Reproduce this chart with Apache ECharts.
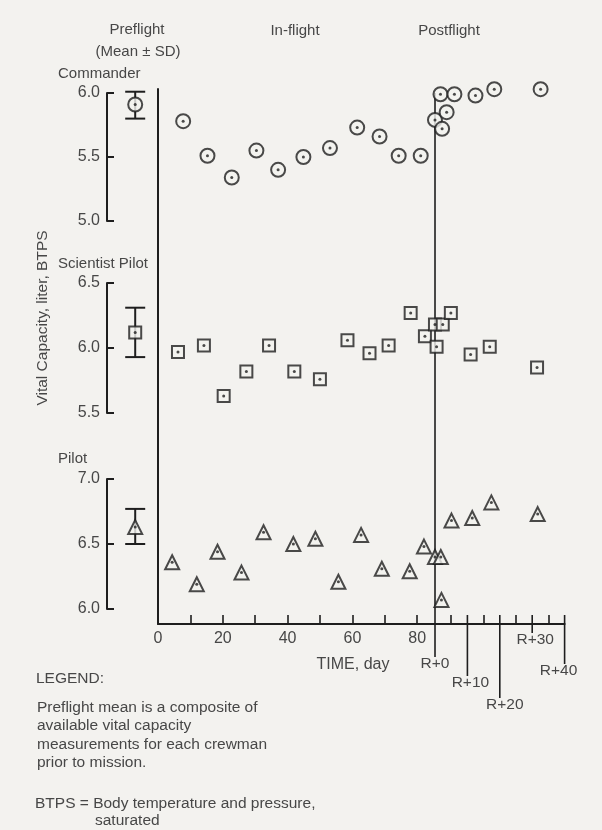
<!DOCTYPE html>
<html>
<head>
<meta charset="utf-8">
<script src="https://cdn.jsdelivr.net/npm/echarts@6/dist/echarts.min.js"></script>
<style>
html, body { margin: 0; padding: 0; background: #f3f2ef; }
#main { width: 602px; height: 830px; }
</style>
</head>
<body>
<div id="main"></div>
<script>
// mission day of recovery (R+0) on the time axis
var R0 = 85.5;
var PRE_X = -7; // where the preflight mean is drawn

// Commander
var cdrDays = [7.8, 15.3, 22.8, 30.4, 37.1, 44.9, 53.1, 61.5, 68.4, 74.3, 81.1];
var cdrVals = [5.78, 5.51, 5.34, 5.55, 5.40, 5.50, 5.57, 5.73, 5.66, 5.51, 5.51];
var cdrPostDays = [0, 1.7, 2.2, 3.6, 6.0, 12.5, 18.3, 32.6];
var cdrPostVals = [5.79, 5.99, 5.72, 5.85, 5.99, 5.98, 6.03, 6.03];

// Scientist Pilot
var spDays = [6.2, 14.2, 20.3, 27.3, 34.3, 42.1, 50.0, 58.5, 65.3, 71.2, 78.0, 82.4];
var spVals = [5.97, 6.02, 5.63, 5.82, 6.02, 5.82, 5.76, 6.06, 5.96, 6.02, 6.27, 6.09];
var spPostDays = [0, 0.5, 2.4, 4.9, 11.0, 16.9, 31.5];
var spPostVals = [6.18, 6.01, 6.18, 6.27, 5.95, 6.01, 5.85];

// Pilot
var pltDays = [4.4, 12.0, 18.4, 25.8, 32.6, 41.8, 48.6, 55.7, 62.7, 69.1, 77.7, 82.1];
var pltVals = [6.36, 6.19, 6.44, 6.28, 6.59, 6.50, 6.54, 6.21, 6.57, 6.31, 6.29, 6.48];
var pltPostDays = [0, 1.8, 2.0, 5.1, 11.5, 17.4, 31.7];
var pltPostVals = [6.40, 6.40, 6.07, 6.68, 6.70, 6.82, 6.73];

// preflight mean +/- SD (Commander, Scientist Pilot, Pilot)
var preMean = [5.91, 6.12, 6.63];
var preLow = [5.80, 5.93, 6.50];
var preHigh = [6.01, 6.31, 6.77];

var crewNames = ['Commander', 'Scientist Pilot', 'Pilot'];
var yMin = [5.0, 5.5, 6.0];
var yMax = [6.0, 6.5, 7.0];

// time axis ticks
var inflightTicks = [10, 20, 30, 40, 50, 60, 70, 80];
var inflightLabels = [0, 20, 40, 60, 80];
var postTicks = [5, 15, 25, 35];
var postMarks = [0, 10, 20, 30, 40];

var ink = '#1e1e1e';
var txt = '#474747';
var bg = '#f3f2ef';
var font = 'Liberation Sans';

var grids = [
  { left: 119, width: 445.6, top: 93, height: 128 },
  { left: 119, width: 445.6, top: 283, height: 130 },
  { left: 119, width: 445.6, top: 479, height: 130 },
  { left: 158, width: 406.6, top: 89, height: 535 }
];

var symbols = ['circle', 'rect', 'triangle'];
var symSize = [14, 12, 14];

var allDays = [[cdrDays, cdrPostDays], [spDays, spPostDays], [pltDays, pltPostDays]];
var allVals = [[cdrVals, cdrPostVals], [spVals, spPostVals], [pltVals, pltPostVals]];

var xAxes = [], yAxes = [], series = [];
for (var i = 0; i < 3; i++) {
  xAxes.push({ gridIndex: i, type: 'value', min: -12, max: 125.5, show: false });
  yAxes.push({
    gridIndex: i, type: 'value', min: yMin[i], max: yMax[i], interval: 0.5,
    offset: 12,
    axisLine: { show: true, onZero: false, lineStyle: { color: ink, width: 2 } },
    axisTick: { show: true, inside: true, length: 7, lineStyle: { color: ink, width: 2 } },
    axisLabel: { margin: 7, color: txt, fontSize: 16, fontFamily: font,
      formatter: function (v) { return v.toFixed(1); } },
    splitLine: { show: false }
  });

  var pts = [[PRE_X, preMean[i]]];
  var d = allDays[i], v = allVals[i];
  for (var k = 0; k < d[0].length; k++) pts.push([d[0][k], v[0][k]]);
  for (var k = 0; k < d[1].length; k++) pts.push([R0 + d[1][k], v[1][k]]);

  series.push({
    type: 'custom', xAxisIndex: i, yAxisIndex: i, z: 2, silent: true,
    data: [[PRE_X, preLow[i], preHigh[i]]],
    renderItem: function (params, api) {
      var lo = api.coord([api.value(0), api.value(1)]);
      var hi = api.coord([api.value(0), api.value(2)]);
      var st = { stroke: ink, lineWidth: 2 };
      return { type: 'group', children: [
        { type: 'line', shape: { x1: lo[0], y1: lo[1], x2: hi[0], y2: hi[1] }, style: st },
        { type: 'line', shape: { x1: lo[0] - 10, y1: lo[1], x2: lo[0] + 10, y2: lo[1] }, style: st },
        { type: 'line', shape: { x1: hi[0] - 10, y1: hi[1], x2: hi[0] + 10, y2: hi[1] }, style: st }
      ] };
    }
  });
  series.push({
    type: 'scatter', xAxisIndex: i, yAxisIndex: i, z: 5, clip: false, silent: true,
    symbol: symbols[i], symbolSize: symSize[i],
    itemStyle: { color: bg, borderColor: ink, borderWidth: 2 },
    data: pts
  });
  series.push({
    type: 'scatter', xAxisIndex: i, yAxisIndex: i, z: 6, clip: false, silent: true,
    symbol: 'circle', symbolSize: 3,
    itemStyle: { color: ink },
    data: pts
  });
}

// shared frame: day-0 line and time axis
xAxes.push({
  gridIndex: 3, type: 'value', min: 0, max: 125.5,
  axisLine: { show: true, lineStyle: { color: ink, width: 2 } },
  axisTick: { show: true, inside: true, length: 9, lineStyle: { color: ink, width: 1.6 },
    customValues: inflightTicks.concat(postTicks.map(function (r) { return R0 + r; })) },
  axisLabel: { customValues: inflightLabels, margin: 7, color: txt, fontSize: 16, fontFamily: font },
  splitLine: { show: false }
});
yAxes.push({
  gridIndex: 3, type: 'value', min: 0, max: 1,
  axisLine: { show: true, lineStyle: { color: ink, width: 2 } },
  axisTick: { show: false }, axisLabel: { show: false }, splitLine: { show: false }
});

var rDrop = [33, 52, 74, 9, 40];
var rShift = [0, 3, 5, 3, -6];
series.push({
  type: 'custom', xAxisIndex: 3, yAxisIndex: 3, z: 1, silent: true,
  data: postMarks.map(function (r) { return [R0 + r, 0]; }),
  renderItem: function (params, api) {
    var i = params.dataIndex;
    var base = api.coord([api.value(0), 0]);
    var top = i === 0 ? api.coord([api.value(0), 1])[1] + 4 : base[1] - 9;
    var end = base[1] + rDrop[i];
    return { type: 'group', children: [
      { type: 'line', shape: { x1: base[0], y1: top, x2: base[0], y2: end },
        style: { stroke: ink, lineWidth: 1.6 } },
      { type: 'text', style: { text: 'R+' + postMarks[i], x: base[0] + rShift[i], y: end + 7,
        align: 'center', verticalAlign: 'middle', fill: txt, fontSize: 15.5, fontFamily: font } }
    ] };
  }
});

function label(text, x, y, align, size) {
  return { type: 'text', x: x, y: y,
    style: { text: text, align: align || 'center', verticalAlign: 'middle',
      fill: txt, fontSize: size || 15, fontFamily: font } };
}

var graphics = [
  label('Preflight', 137, 30),
  label('(Mean \u00b1 SD)', 138, 52),
  label('In-flight', 295, 31),
  label('Postflight', 449, 31),
  label('TIME, day', 353, 665, 'center', 16),
  label('LEGEND:', 36, 679, 'left', 15.5),
  label('Preflight mean is a composite of', 37, 708, 'left', 15.5),
  label('available vital capacity', 37, 726, 'left', 15.5),
  label('measurements for each crewman', 37, 745, 'left', 15.5),
  label('prior to mission.', 37, 763, 'left', 15.5),
  label('BTPS = Body temperature and pressure,', 35, 804, 'left', 15.5),
  label('saturated', 95, 821, 'left', 15.5),
  { type: 'text', x: 43, y: 318, rotation: Math.PI / 2,
    style: { text: 'Vital Capacity, liter, BTPS', align: 'center', verticalAlign: 'middle',
      fill: txt, fontSize: 15.5, fontFamily: font } }
];
var labelY = [74, 264, 459];
for (var i = 0; i < 3; i++) graphics.push(label(crewNames[i], 58, labelY[i], 'left', 15));

var chart = echarts.init(document.getElementById('main'));
chart.setOption({
  backgroundColor: bg,
  animation: false,
  grid: grids,
  xAxis: xAxes,
  yAxis: yAxes,
  series: series,
  graphic: graphics
});
</script>
</body>
</html>
